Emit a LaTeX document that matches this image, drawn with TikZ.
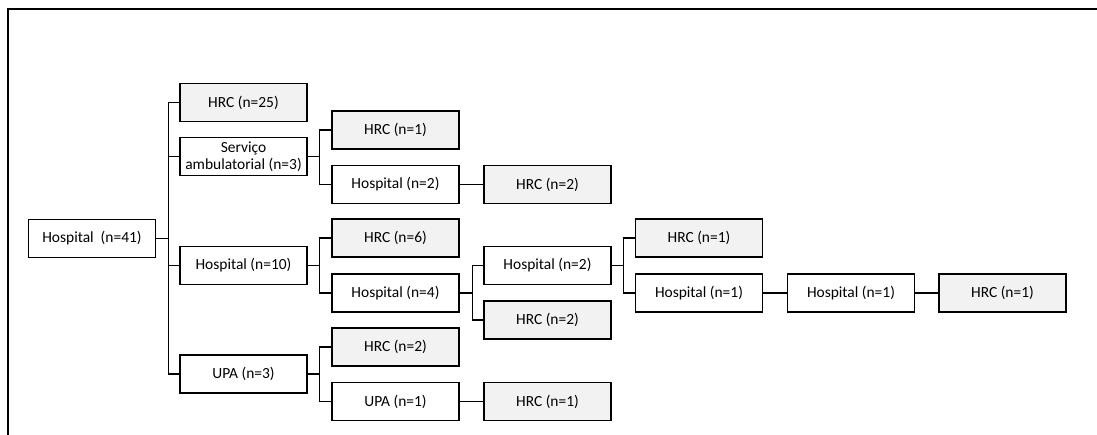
\documentclass[tikz,border=0pt]{standalone}
\usepackage{fontspec}
\setmainfont{Carlito}
\usepackage{tikz}
\usetikzlibrary{positioning}
\definecolor{cinza}{RGB}{242,242,242}
\tikzset{
  caixa/.style={draw,line width=1.1pt,minimum width=95.25pt,minimum height=28.5pt,
    inner sep=1pt,align=center,font=\fontsize{11.6}{13}\selectfont},
  cinzento/.style={caixa,fill=cinza},
  liga/.style={line width=1pt},
  moldura/.style={line width=1.5pt},
}

\begin{document}
\begin{tikzpicture}[x=0.75pt,y=-0.75pt]
  \useasboundingbox (0,0) rectangle (1097,435);
  \draw[moldura] (8,435) -- (8,9.5) -- (1097,9.5);
  % coluna 1 e 2
  \node[caixa] (h41) at (92,238.5) {Hospital\ \ (n=41)};
  \node[cinzento] (hrc25) at (243.5,102.5) {HRC (n=25)};
  \node[caixa] (serv) at (243.5,156.5) {Serviço\\ambulatorial (n=3)};
  \node[caixa] (h10) at (243.5,265.5) {Hospital (n=10)};
  \node[caixa] (upa3) at (243.5,374) {UPA (n=3)};
  % coluna 3
  \node[cinzento] (hrc1a) at (395.5,130) {HRC (n=1)};
  \node[caixa] (h2a) at (395.5,184.5) {Hospital (n=2)};
  \node[cinzento] (hrc6) at (395.5,238) {HRC (n=6)};
  \node[caixa] (h4) at (395.5,293) {Hospital (n=4)};
  \node[cinzento] (hrc2c) at (395.5,347) {HRC (n=2)};
  \node[caixa] (upa1) at (395.5,401.5) {UPA (n=1)};
  % coluna 4
  \node[cinzento] (hrc2a) at (547.5,184.5) {HRC (n=2)};
  \node[caixa] (h2b) at (547.5,265.5) {Hospital (n=2)};
  \node[cinzento] (hrc2b) at (547.5,320) {HRC (n=2)};
  \node[cinzento] (hrc1d) at (547.5,401.5) {HRC (n=1)};
  % colunas 5 a 7
  \node[cinzento] (hrc1b) at (699,238) {HRC (n=1)};
  \node[caixa] (h1a) at (699,293) {Hospital (n=1)};
  \node[caixa] (h1b) at (851,293) {Hospital (n=1)};
  \node[cinzento] (hrc1c) at (1002.5,293) {HRC (n=1)};
  % ligacoes
  \foreach \c in {hrc25,serv,h10,upa3}
    \draw[liga] (h41.east) -- ++(12,0) |- (\c.west);
  \foreach \c in {hrc1a,h2a} \draw[liga] (serv.east) -- ++(12,0) |- (\c.west);
  \foreach \c in {hrc6,h4} \draw[liga] (h10.east) -- ++(12,0) |- (\c.west);
  \foreach \c in {hrc2c,upa1} \draw[liga] (upa3.east) -- ++(12,0) |- (\c.west);
  \foreach \c in {h2b,hrc2b} \draw[liga] (h4.east) -- ++(13,0) |- (\c.west);
  \foreach \c in {hrc1b,h1a} \draw[liga] (h2b.east) -- ++(12,0) |- (\c.west);
  \draw[liga] (h2a) -- (hrc2a);
  \draw[liga] (upa1) -- (hrc1d);
  \draw[liga] (h1a) -- (h1b);
  \draw[liga] (h1b) -- (hrc1c);
\end{tikzpicture}
\end{document}
